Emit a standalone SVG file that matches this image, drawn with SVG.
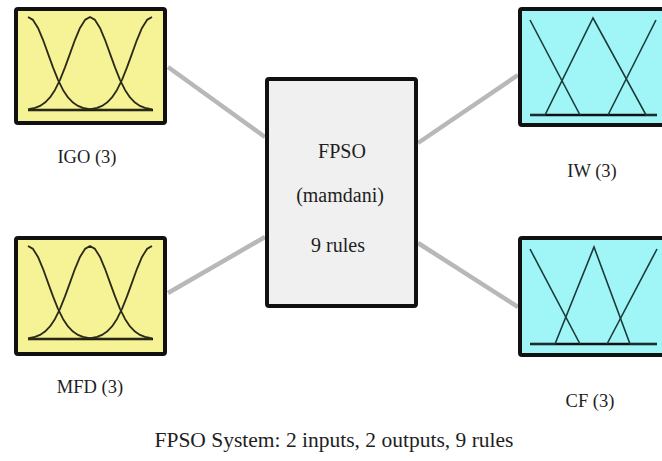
<svg xmlns="http://www.w3.org/2000/svg" xmlns:xlink="http://www.w3.org/1999/xlink" width="662" height="461" viewBox="0 0 662 461" font-family="'Liberation Serif', 'DejaVu Serif', serif">
  <style>
    text { font-family: "Liberation Serif", "DejaVu Serif", serif; }
    .label { font-size: 18.5px; fill: #1e1e1e; text-anchor: middle; }
    .core { font-size: 20px; }
    .caption { font-size: 21.5px; }
    .box { stroke: #111; stroke-width: 4; stroke-linejoin: round; }
    .in { fill: #f6f296; }
    .out { fill: #a0f6f6; }
    .rules { fill: #f0f0f0; }
    .link { stroke: #b8b8b8; stroke-width: 4.5; stroke-linecap: butt; fill: none; }
    .mf-g { fill: none; stroke: #2a2a18; stroke-width: 1.8; stroke-linejoin: round; }
    .mf-t { fill: none; stroke: #1c3a3a; stroke-width: 1.6; stroke-linejoin: miter; }
    .axis { stroke: #111; stroke-width: 2.4; }
  </style>
  <defs>
    <!-- three gaussian membership functions, local coords of an input box -->
    <g id="gauss3">
      <line class="axis" x1="14" y1="103" x2="139" y2="103"/>
      <path class="mf-g" d="M14,10 L19,12.9 L24,20.9 L29,32.8 L34,46.6 L39,60.4 L44,72.8 L49,82.9 L54,90.4 L59,95.6 L64,98.9 L69,100.9 L74,102 L79,102.5 L89,102.9 L138,103"/>
      <path class="mf-g" d="M14,102.3 L16,102 L21,100.9 L26,98.9 L31,95.6 L36,90.4 L41,82.9 L46,72.8 L51,60.4 L56,46.6 L61,32.8 L66,20.9 L71,12.9 L76,10 L81,12.9 L86,20.9 L91,32.8 L96,46.6 L101,60.4 L106,72.8 L111,82.9 L116,90.4 L121,95.6 L126,98.9 L131,100.9 L136,102 L138,102.3"/>
      <path class="mf-g" d="M138,10 L133,12.9 L128,20.9 L123,32.8 L118,46.6 L113,60.4 L108,72.8 L103,82.9 L98,90.4 L93,95.6 L88,98.9 L83,100.9 L78,102 L73,102.5 L63,102.9 L14,103"/>
    </g>
  </defs>

  <!-- connectors -->
  <g id="connectors">
    <line class="link" x1="168" y1="67" x2="265" y2="137"/>
    <line class="link" x1="168" y1="293" x2="265" y2="237"/>
    <line class="link" x1="418" y1="143" x2="518" y2="75"/>
    <line class="link" x1="418" y1="243" x2="518" y2="307"/>
  </g>

  <!-- input IGO -->
  <g id="igo">
    <rect class="box in" x="16" y="9" width="149" height="114" rx="2"/>
    <use xlink:href="#gauss3" transform="translate(14,7)"/>
    <text class="label" x="87" y="163">IGO (3)</text>
  </g>

  <!-- input MFD -->
  <g id="mfd">
    <rect class="box in" x="16" y="238" width="149" height="116" rx="2"/>
    <use xlink:href="#gauss3" transform="translate(14,236)"/>
    <text class="label" x="90" y="393">MFD (3)</text>
  </g>

  <!-- rule block -->
  <g id="fpso">
    <rect class="box rules" x="267" y="79" width="149" height="227" rx="2"/>
    <text class="label core" x="342" y="158">FPSO</text>
    <text class="label core" x="340" y="202">(mamdani)</text>
    <text class="label core" x="338" y="252">9 rules</text>
  </g>

  <!-- output IW -->
  <g id="iw">
    <rect class="box out" x="520" y="9" width="160" height="116" rx="2"/>
    <line class="axis" x1="530" y1="115" x2="657" y2="115"/>
    <path class="mf-t" d="M530,20 L580,115"/>
    <path class="mf-t" d="M530,115 L545,115 L593,18 L646,115 L657,115"/>
    <path class="mf-t" d="M608,115 L656,20"/>
    <text class="label" x="592" y="177">IW (3)</text>
  </g>

  <!-- output CF -->
  <g id="cf">
    <rect class="box out" x="520" y="238" width="160" height="117" rx="2"/>
    <line class="axis" x1="530" y1="344" x2="657" y2="344"/>
    <path class="mf-t" d="M530,249 L580,344"/>
    <path class="mf-t" d="M530,344 L555,344 L594,247 L630,344 L657,344"/>
    <path class="mf-t" d="M607,344 L657,249"/>
    <text class="label" x="590" y="407">CF (3)</text>
  </g>

  <text class="label caption" x="334" y="447">FPSO System: 2 inputs, 2 outputs, 9 rules</text>
</svg>
